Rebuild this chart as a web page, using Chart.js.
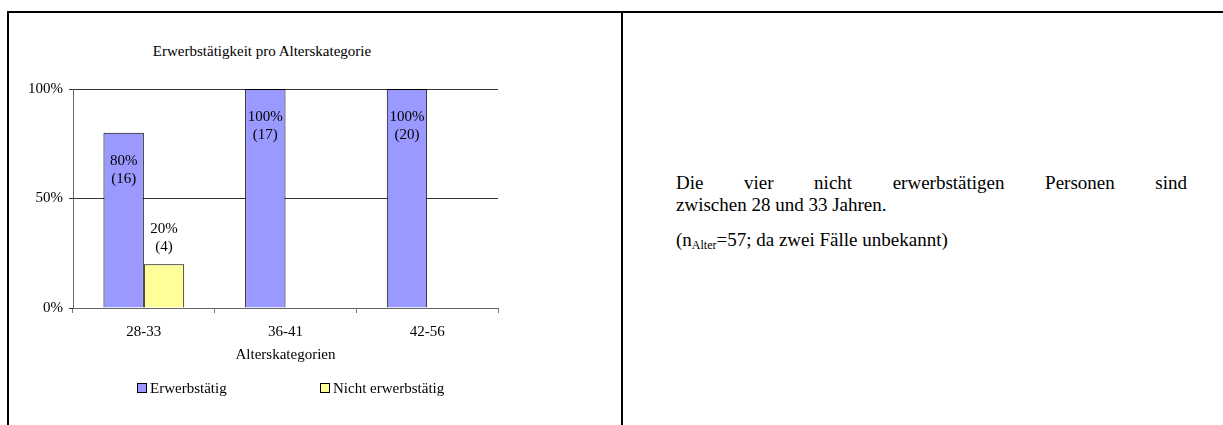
<!DOCTYPE html>
<html>
<head>
<meta charset="utf-8">
<script src="https://cdn.jsdelivr.net/npm/chart.js@4/dist/chart.umd.min.js"></script>
<style>
  html, body { margin: 0; padding: 0; background: #fff; }
  body { width: 1223px; height: 425px; position: relative; overflow: hidden;
         font-family: 'Liberation Serif', 'Times New Roman', serif; color: #000; }
  .frame-top { position: absolute; left: 7px; top: 11px; width: 1216px; height: 2px; background: #000; }
  .frame-left { position: absolute; left: 7px; top: 11px; width: 2px; height: 414px; background: #000; }
  .frame-mid { position: absolute; left: 621px; top: 11px; width: 2px; height: 414px; background: #000; }
  #wrap { position: absolute; left: 0; top: 0; width: 620px; height: 425px; }
  .title { position: absolute; left: 132px; top: 43px; width: 260px; text-align: center; font-size: 15px; }
  .legend { position: absolute; top: 380px; font-size: 15px; line-height: 17px; white-space: nowrap; }
  .legend i { display: inline-block; width: 8px; height: 8px; border: 1px solid #000;
              margin-right: 3px; vertical-align: 0px; }
  .note { position: absolute; left: 676px; top: 172px; width: 511px; font-size: 19px; line-height: 22px; }
  .note .l1 { text-align: justify; text-align-last: justify; }
  .note .l3 { margin-top: 13px; }
  .note sub { font-size: 12px; vertical-align: -3px; line-height: 0; }
</style>
</head>
<body>
<div class="frame-top"></div>
<div class="frame-left"></div>
<div class="frame-mid"></div>

<div class="title">Erwerbstätigkeit pro Alterskategorie</div>
<div id="wrap"><canvas id="chart" width="620" height="425"></canvas></div>
<div class="legend" style="left:137px"><i style="background:#9999ff"></i>Erwerbstätig</div>
<div class="legend" style="left:320px"><i style="background:#ffff99"></i>Nicht erwerbstätig</div>

<div class="note">
  <div class="l1">Die vier nicht erwerbstätigen Personen sind</div>
  <div>zwischen 28 und 33 Jahren.</div>
  <div class="l3">(n<sub>Alter</sub>=57; da zwei Fälle unbekannt)</div>
</div>

<script>
// Daten
const categories = ['28-33', '36-41', '42-56'];
const erwerbstaetigPct = [80, 100, 100];
const erwerbstaetigN = [16, 17, 20];
const nichtErwerbstaetigPct = [20, null, null];
const nichtErwerbstaetigN = [4, null, null];
const yTicks = [0, 50, 100];

const serif = "'Liberation Serif', 'Times New Roman', serif";

// Beschriftung "80%" / "(16)" an den Balken
const barLabels = {
  id: 'barLabels',
  afterDatasetsDraw(chart) {
    const ctx = chart.ctx;
    ctx.save();
    ctx.font = '15px ' + serif;
    ctx.fillStyle = '#000';
    ctx.textAlign = 'center';
    ctx.textBaseline = 'middle';
    chart.data.datasets.forEach((ds, di) => {
      const meta = chart.getDatasetMeta(di);
      meta.data.forEach((bar, i) => {
        const v = ds.data[i];
        if (v === null) return;
        const n = ds.counts[i];
        let y1, y2;
        if (v >= 50) {
          y1 = bar.y + 28;
          y2 = bar.y + 46;
        } else {
          y1 = bar.y - 35;
          y2 = bar.y - 17;
        }
        ctx.fillText(v + '%', bar.x, y1);
        ctx.fillText('(' + n + ')', bar.x, y2);
      });
    });
    ctx.restore();
  }
};

new Chart(document.getElementById('chart'), {
  type: 'bar',
  data: {
    labels: categories,
    datasets: [{
      label: 'Erwerbstätig',
      data: erwerbstaetigPct,
      counts: erwerbstaetigN,
      backgroundColor: '#9999ff',
      borderColor: '#000',
      borderWidth: 1
    }, {
      label: 'Nicht erwerbstätig',
      data: nichtErwerbstaetigPct,
      counts: nichtErwerbstaetigN,
      backgroundColor: '#ffff99',
      borderColor: '#000',
      borderWidth: 1
    }]
  },
  options: {
    responsive: false,
    animation: false,
    layout: { padding: { left: 0, right: 122, top: 89, bottom: 57 } },
    datasets: { bar: { categoryPercentage: 0.57, barPercentage: 1.0 } },
    plugins: {
      legend: { display: false },
      title: { display: false },
      tooltip: { enabled: false }
    },
    scales: {
      x: {
        afterFit(scale) { scale.height = 60; },
        grid: { drawOnChartArea: false, drawTicks: true, tickLength: 5, color: '#777', offset: true },
        border: { color: '#666', width: 1 },
        ticks: { color: '#000', font: { family: serif, size: 15 }, padding: 10 },
        title: { display: true, text: 'Alterskategorien', color: '#000',
                 font: { family: serif, size: 15 }, padding: { top: 0, bottom: 4 } }
      },
      y: {
        min: 0,
        max: 100,
        afterFit(scale) { scale.width = 73; },
        afterBuildTicks(scale) { scale.ticks = yTicks.map(v => ({ value: v })); },
        grid: { color: '#333', tickLength: 4, tickColor: '#333' },
        border: { color: '#666', width: 1 },
        ticks: { color: '#000', font: { family: serif, size: 15 }, padding: 6,
                 callback: v => v + '%' }
      }
    }
  },
  plugins: [barLabels]
});
</script>
</body>
</html>
